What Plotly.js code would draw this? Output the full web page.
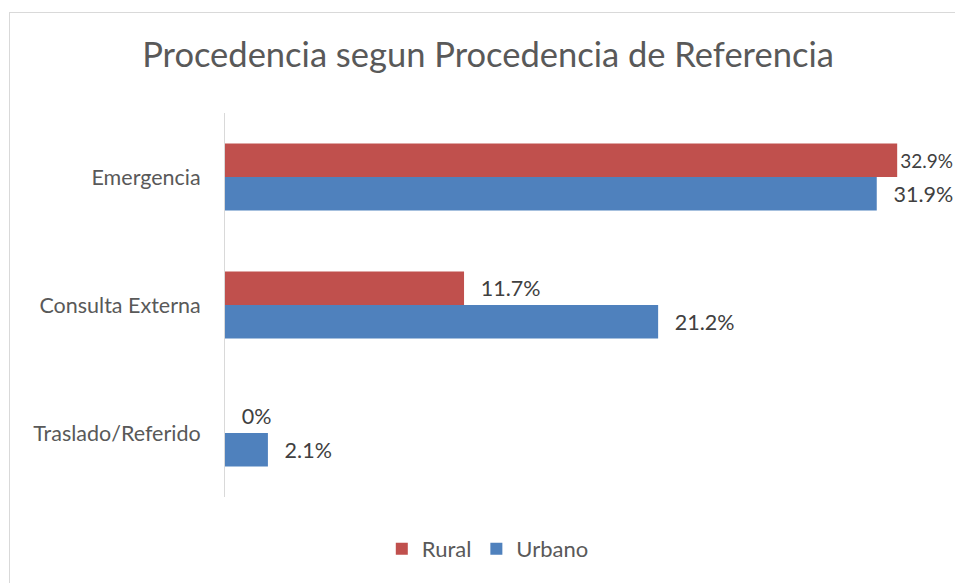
<!DOCTYPE html>
<html>
<head>
<meta charset="utf-8">
<script src="https://cdn.plot.ly/plotly-3.0.1.min.js"></script>
<style>
html,body{margin:0;padding:0;background:#fff;overflow:hidden;}
#wrap{position:relative;width:955px;height:583px;}
#frame{position:absolute;left:9px;top:12px;width:1000px;height:620px;border:1px solid #d9d9d9;box-sizing:border-box;pointer-events:none;}
#chart{position:absolute;left:0;top:0;width:955px;height:583px;}
</style>
</head>
<body>
<div id="wrap"><div id="frame"></div><div id="chart"></div></div>
<script>
const categories = ["Emergencia", "Consulta Externa", "Traslado/Referido"];
const rural = [32.9, 11.7, 0];
const urbano = [31.9, 21.2, 2.1];
const seriesNames = ["Rural", "Urbano"];

const font = "Lato, 'Open Sans', sans-serif";
const textColor = "#595959";
const labelColor = "#404040";
const maxX = 35.73;

// leading gap before each value label; the largest bar gets a tighter label so it stays in view
function labelTemplates(vals) {
  const top = Math.max(...rural, ...urbano);
  return vals.map(v => (v === top ? "%{text}" : "  \u2009%{text}"));
}
function labelSizes(vals) {
  const top = Math.max(...rural, ...urbano);
  return vals.map(v => (v === top ? 19 : 21.5));
}

const traces = [
  {
    type: "bar", orientation: "h", name: seriesNames[0],
    y: categories, x: rural,
    marker: {color: "#C0504D"},
    text: rural.map(v => v + "%"),
    texttemplate: labelTemplates(rural),
    textposition: "outside", cliponaxis: false, constraintext: "none",
    textfont: {family: font, size: labelSizes(rural), color: labelColor},
    hoverinfo: "none"
  },
  {
    type: "bar", orientation: "h", name: seriesNames[1],
    y: categories, x: urbano,
    marker: {color: "#4F81BD"},
    text: urbano.map(v => v + "%"),
    texttemplate: labelTemplates(urbano),
    textposition: "outside", cliponaxis: false, constraintext: "none",
    textfont: {family: font, size: labelSizes(urbano), color: labelColor},
    hoverinfo: "none"
  }
];

const layout = {
  width: 955, height: 583,
  paper_bgcolor: "rgba(0,0,0,0)", plot_bgcolor: "rgba(0,0,0,0)",
  margin: {l: 225, r: 0, t: 113, b: 86},
  title: {text: "Procedencia segun Procedencia de Referencia", x: 0.511, xanchor: "center", y: 0.905, yanchor: "middle",
          font: {family: font, size: 34.5, color: textColor}},
  barmode: "group", bargap: 0.477, bargroupgap: 0,
  xaxis: {range: [0, maxX], showgrid: false, zeroline: false, showticklabels: false, showline: false, ticks: ""},
  yaxis: {type: "category", categoryorder: "array", categoryarray: categories, autorange: "reversed",
          showline: true, linecolor: "#d9d9d9", linewidth: 1, ticks: "", showgrid: false,
          ticklabelstandoff: 19,
          tickfont: {family: font, size: 21.5, color: textColor}},
  showlegend: true,
  legend: {orientation: "h", x: 0.36, xanchor: "center", y: -0.135, yanchor: "middle",
           font: {family: font, size: 22, color: textColor}, itemwidth: 30, traceorder: "normal"},
  font: {family: font}
};

Plotly.newPlot("chart", traces, layout, {displayModeBar: false, staticPlot: true});
</script>
</body>
</html>
